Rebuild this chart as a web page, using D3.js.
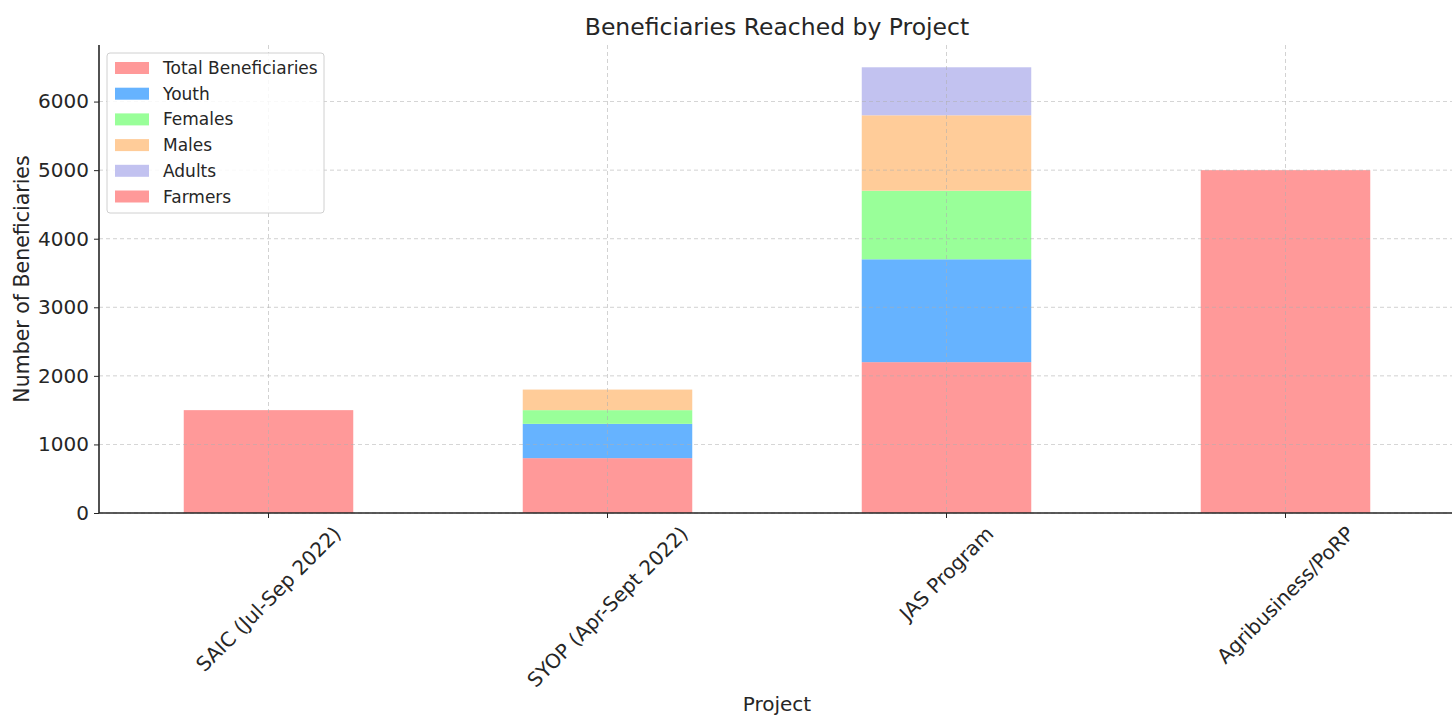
<!DOCTYPE html>
<html>
<head>
<meta charset="utf-8">
<script src="https://cdn.jsdelivr.net/npm/d3@7"></script>
<style>
  body { margin: 0; background: #fff; }
  text { font-family: "DejaVu Sans", sans-serif; fill: #262626; }
</style>
</head>
<body>
<script>
const projects = ["SAIC (Jul-Sep 2022)", "SYOP (Apr-Sept 2022)", "JAS Program", "Agribusiness/PoRP"];
const seriesNames = ["Total Beneficiaries", "Youth", "Females", "Males", "Adults", "Farmers"];
const totalBeneficiaries = [1500, 800, 2200, 0];
const youth = [0, 500, 1500, 0];
const females = [0, 200, 1000, 0];
const males = [0, 300, 1100, 0];
const adults = [0, 0, 700, 0];
const farmers = [0, 0, 0, 5000];
const yTicks = [0, 1000, 2000, 3000, 4000, 5000, 6000];
const colors = ["#ff9999", "#66b3ff", "#99ff99", "#ffcc99", "#c2c2f0", "#ff9999"];

const seriesValues = [totalBeneficiaries, youth, females, males, adults, farmers];
const rows = projects.map((p, i) => {
    const r = { project: p };
    seriesNames.forEach((s, j) => { r[s] = seriesValues[j][i]; });
    return r;
});
const stacked = d3.stack().keys(seriesNames)(rows);

const width = 1452, height = 715;
const margin = { top: 45, right: -3, bottom: 202, left: 99 };

const svg = d3.select("body").append("svg")
    .attr("width", width)
    .attr("height", height);

const x = d3.scaleBand()
    .domain(projects)
    .range([margin.left, width - margin.right])
    .paddingInner(0.5)
    .paddingOuter(0.25);

const maxTotal = d3.max(stacked[stacked.length - 1], d => d[1]);
const y = d3.scaleLinear()
    .domain([0, maxTotal * 1.05])
    .range([height - margin.bottom, margin.top]);

// bars
svg.append("g").selectAll("g")
    .data(stacked)
    .enter().append("g")
    .attr("fill", (d, i) => colors[i])
    .selectAll("rect")
    .data(d => d.filter(v => v[1] - v[0] > 0))
    .enter().append("rect")
    .attr("x", d => x(d.data.project))
    .attr("y", d => y(d[1]))
    .attr("width", x.bandwidth())
    .attr("height", d => y(d[0]) - y(d[1]));

// dashed grid, drawn over the bars
svg.append("g").selectAll("line")
    .data(projects)
    .enter().append("line")
    .attr("x1", d => x(d) + x.bandwidth() / 2).attr("x2", d => x(d) + x.bandwidth() / 2)
    .attr("y1", margin.top).attr("y2", height - margin.bottom)
    .attr("stroke", "#b0b0b0").attr("stroke-width", 0.8)
    .attr("stroke-dasharray", "4,3").attr("opacity", 0.7);
svg.append("g").selectAll("line")
    .data(yTicks)
    .enter().append("line")
    .attr("x1", margin.left).attr("x2", width - margin.right)
    .attr("y1", d => y(d)).attr("y2", d => y(d))
    .attr("stroke", "#b0b0b0").attr("stroke-width", 0.8)
    .attr("stroke-dasharray", "4,3").attr("opacity", 0.7);

// axes
const yAxis = svg.append("g")
    .attr("transform", `translate(${margin.left},0)`)
    .call(d3.axisLeft(y).tickValues(yTicks).tickFormat(d3.format("d"))
        .tickSize(5).tickPadding(5).tickSizeOuter(0));
yAxis.select(".domain").attr("stroke", "#262626").attr("stroke-width", 1.6)
    .attr("d", `M0,${margin.top}V${height - margin.bottom}`);
yAxis.selectAll("text").style("font-size", "20px").style("font-family", "DejaVu Sans");
yAxis.selectAll("line").attr("stroke", "#262626");

const xAxis = svg.append("g")
    .attr("transform", `translate(0,${height - margin.bottom})`)
    .call(d3.axisBottom(x).tickSize(5).tickSizeOuter(0));
xAxis.select(".domain").attr("stroke", "#262626").attr("stroke-width", 1.6)
    .attr("d", `M${margin.left},0H${width}`);
xAxis.selectAll("line").attr("stroke", "#262626");
xAxis.selectAll("text")
    .style("font-size", "20px")
    .style("font-family", "DejaVu Sans")
    .attr("text-anchor", "middle")
    .attr("y", 0)
    .attr("dy", "0.35em")
    .attr("transform", function() {
        const len = this.getComputedTextLength();
        const cy = 10 + (len + 20) * 0.7071 / 2;
        return `translate(0,${cy}) rotate(-45)`;
    });

// title and labels
svg.append("text")
    .attr("x", 777).attr("y", 35)
    .attr("text-anchor", "middle")
    .style("font-size", "23.5px")
    .text("Beneficiaries Reached by Project");

svg.append("text")
    .attr("x", 777).attr("y", 711)
    .attr("text-anchor", "middle")
    .style("font-size", "20px")
    .text("Project");

svg.append("text")
    .attr("transform", `translate(29,${(margin.top + height - margin.bottom) / 2}) rotate(-90)`)
    .attr("text-anchor", "middle")
    .style("font-size", "20.5px")
    .text("Number of Beneficiaries");

// legend
const legend = svg.append("g").attr("transform", "translate(107,53)");
legend.append("rect")
    .attr("width", 217).attr("height", 160)
    .attr("rx", 3)
    .attr("fill", "#fff").attr("fill-opacity", 0.85)
    .attr("stroke", "#d0d0d0");
const items = legend.selectAll("g.item")
    .data(seriesNames)
    .enter().append("g")
    .attr("transform", (d, i) => `translate(8,${15 + i * 25.7})`);
items.append("rect")
    .attr("x", 0).attr("y", -6)
    .attr("width", 34).attr("height", 12)
    .attr("fill", (d, i) => colors[i]);
items.append("text")
    .attr("x", 48).attr("y", 6)
    .style("font-size", "17px")
    .text(d => d);
</script>
</body>
</html>
